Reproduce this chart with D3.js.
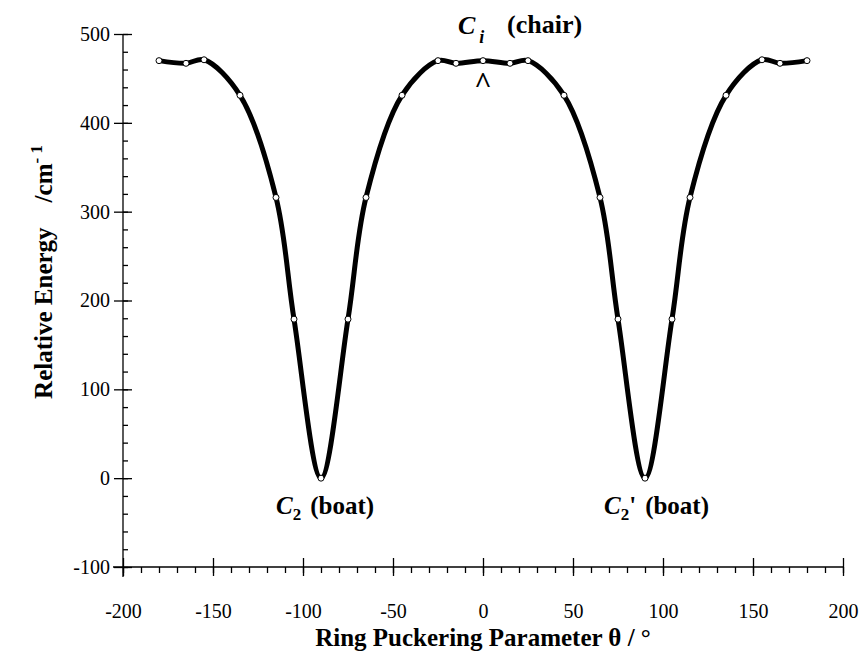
<!DOCTYPE html>
<html>
<head>
<meta charset="utf-8">
<script src="https://cdn.jsdelivr.net/npm/d3@7"></script>
<style>
  body { margin: 0; background: #fff; }
  svg { display: block; }
  text { font-family: 'Liberation Serif', 'Times New Roman', serif; fill: #000; }
</style>
</head>
<body>
<div class="chart"></div>
<script>
// data: ring puckering angle (deg) vs relative energy (cm-1)
const theta = [-180, -165, -155, -135, -115, -105, -90, -75, -65, -45, -25, -15, 0,
               15, 25, 45, 65, 75, 90, 105, 115, 135, 155, 165, 180];
const energy = [470, 467, 471, 431, 316, 179, 0, 179, 316, 431, 470, 467, 470,
                467, 470, 431, 316, 179, 0, 179, 316, 431, 471, 467, 470];
const xTicks = [-200, -150, -100, -50, 0, 50, 100, 150, 200];
const yTicks = [-100, 0, 100, 200, 300, 400, 500];

const points = theta.map((t, i) => ({ t: t, e: energy[i] }));

const width = 865;
const height = 658;

const svg = d3.select('.chart')
    .append('svg')
    .attr('width', width)
    .attr('height', height);

//scales
const xScale = d3.scaleLinear().domain([-200, 200]).range([123, 843]);
const yScale = d3.scaleLinear().domain([-100, 500]).range([567, 34]);

// plain hyphen for negatives, like the original
const fmt = d => String(d);

// x axis: minor ticks below, major ticks crossing
const xAxisG = svg.append('g')
    .attr('class', 'x-axis')
    .attr('transform', `translate(0,${yScale(-100)})`);

xAxisG.append('g')
    .call(d3.axisBottom(xScale).tickValues(d3.range(-200, 201, 10)).tickSize(6).tickFormat(''))
    .call(g => g.select('.domain').remove());

xAxisG.append('g')
    .call(d3.axisBottom(xScale).tickValues(xTicks).tickSize(9).tickFormat(fmt))
    .call(g => g.select('.domain').attr('d', `M${xScale(-200) - 10},0H${xScale(200)}`))
    .call(g => g.selectAll('.tick line').attr('y1', -9))
    .call(g => g.selectAll('.tick text').attr('y', 45).attr('dy', '0.32em').style('font-size', '20px'));

// y axis: minor ticks inside, major ticks crossing
const yAxisG = svg.append('g')
    .attr('class', 'y-axis')
    .attr('transform', `translate(${xScale(-200)},0)`);

yAxisG.append('g')
    .call(d3.axisRight(yScale).tickValues(d3.range(-100, 501, 20)).tickSize(5).tickFormat(''))
    .call(g => g.select('.domain').remove());

yAxisG.append('g')
    .call(d3.axisLeft(yScale).tickValues(yTicks).tickSize(9).tickPadding(4).tickFormat(fmt))
    .call(g => g.select('.domain').attr('d', `M0,${yScale(500)}V${yScale(-100) + 10}`))
    .call(g => g.selectAll('.tick line').attr('x2', 9).attr('x1', -9))
    .call(g => g.selectAll('.tick text').style('font-size', '20px'));

svg.selectAll('.domain, .tick line').attr('stroke', '#000').attr('stroke-width', 1.3);

// curve
const lineGenerator = d3.line()
    .x(d => xScale(d.t))
    .y(d => yScale(d.e))
    .curve(d3.curveCatmullRom.alpha(0.5));

svg.append('path')
    .attr('d', lineGenerator(points))
    .style('fill', 'none')
    .style('stroke', '#000')
    .style('stroke-width', 5)
    .style('stroke-linejoin', 'round');

svg.append('g')
    .selectAll('circle')
    .data(points)
    .enter()
    .append('circle')
    .attr('cx', d => xScale(d.t))
    .attr('cy', d => yScale(d.e))
    .attr('r', 3)
    .style('fill', '#fff')
    .style('stroke', '#000')
    .style('stroke-width', 1);

// annotations
const chair = svg.append('text')
    .attr('x', 458)
    .attr('y', 34)
    .style('font-size', '26px')
    .style('font-weight', 'bold');
chair.append('tspan').style('font-style', 'italic').text('C');
chair.append('tspan').attr('dy', 9).attr('dx', 4).style('font-style', 'italic').style('font-size', '18px').text('i');
chair.append('tspan').attr('x', 507).attr('y', 33).text('(chair)');

svg.append('text')
    .attr('x', xScale(0))
    .attr('y', 93)
    .attr('text-anchor', 'middle')
    .style('font-size', '30px')
    .style('font-weight', 'bold')
    .text('^');

const boatLabel = (x, prime) => {
    const t = svg.append('text')
        .attr('x', x)
        .attr('y', 514)
        .style('font-size', '25px')
        .style('font-weight', 'bold');
    t.append('tspan').style('font-style', 'italic').text('C');
    t.append('tspan').attr('dy', 6).style('font-size', '17px').text('2');
    if (prime) t.append('tspan').attr('dy', -6).text("'");
    t.append('tspan').attr('dy', prime ? 0 : -6).attr('dx', 9).text('(boat)');
}
boatLabel(276, false);
boatLabel(604, true);

// axis titles
svg.append('text')
    .attr('x', xScale(0))
    .attr('y', 646)
    .attr('text-anchor', 'middle')
    .style('font-size', '25px')
    .style('font-weight', 'bold')
    .text('Ring Puckering Parameter θ / °');

const yTitle = svg.append('text')
    .attr('transform', 'translate(52,272) rotate(-90)')
    .attr('text-anchor', 'middle')
    .style('font-size', '25px')
    .style('font-weight', 'bold')
    .attr('xml:space', 'preserve');
yTitle.append('tspan').text('Relative Energy    /cm');
yTitle.append('tspan').attr('dy', -10).style('font-size', '17px').text('- 1');
</script>
</body>
</html>
